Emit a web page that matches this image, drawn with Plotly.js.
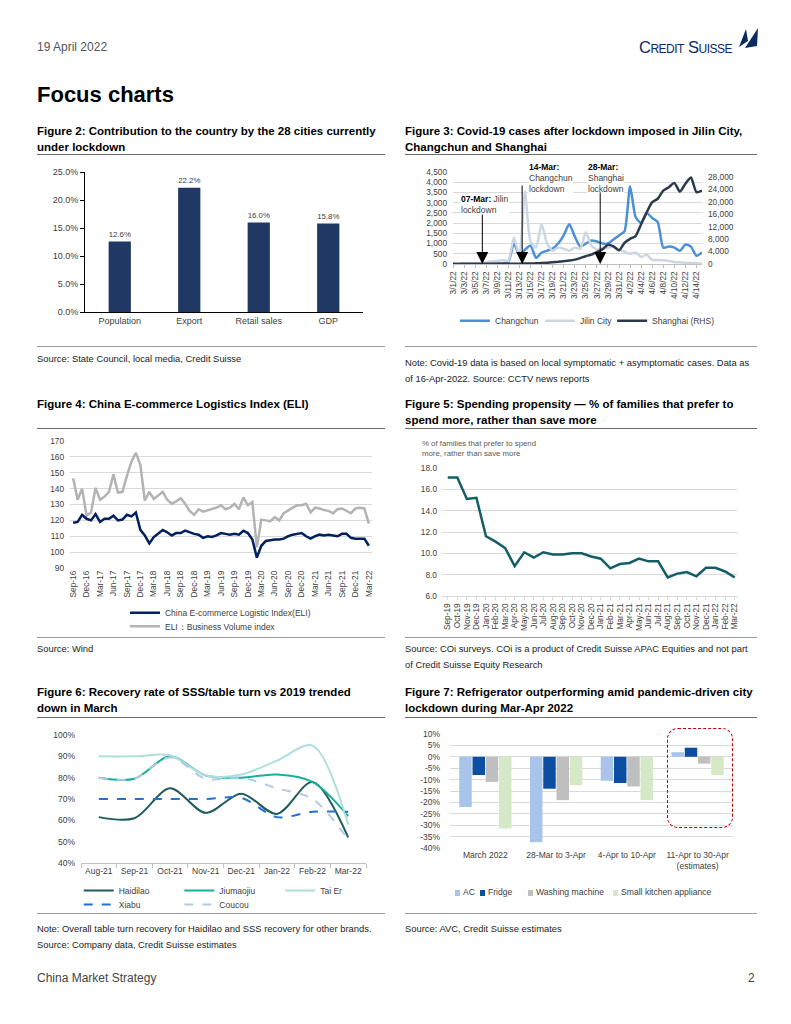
<!DOCTYPE html>
<html><head><meta charset="utf-8">
<script src="https://cdn.plot.ly/plotly-3.0.1.min.js"></script>
<style>
body{margin:0;width:791px;height:1024px;background:#fff;position:relative;font-family:"Liberation Sans",Arial,sans-serif;overflow:hidden}
.t{position:absolute;white-space:nowrap}
.ft{position:absolute;white-space:nowrap;font-family:"Liberation Sans",Arial,sans-serif;font-weight:bold;font-size:11.5px;line-height:15.5px;color:#000}
.rule{position:absolute;height:0;border-top:1.5px solid #6e6e6e}
.rule2{position:absolute;height:0;border-top:1.5px solid #9a9a9a}
.src{position:absolute;white-space:nowrap;font-size:9.4px;line-height:15.5px;color:#222}
.ch{position:absolute}
.lg{position:absolute;white-space:nowrap;font-size:8.6px;color:#404040;line-height:10px}
.lg i{display:inline-block;width:5px;height:6px;margin-right:3px;vertical-align:-0.5px}
</style></head><body>

<div class="t" style="left:37px;top:40px;font-size:12px;color:#555">19 April 2022</div>
<div class="t" style="left:639px;top:38px;font-size:16.5px;color:#0b2a62;font-variant:small-caps;letter-spacing:-0.5px">Credit Suisse</div>
<svg style="position:absolute;left:737px;top:27px" width="24" height="24" viewBox="0 0 24 24">
  <path d="M2 20 L9 2 L11 14 Z" fill="#0b2a62"/>
  <path d="M8 21 L21 1 L20 19 Z" fill="#0b2a62"/>
</svg>
<div class="t" style="left:37px;top:82px;font-size:22px;font-weight:bold;color:#000">Focus charts</div>

<div class="ft" style="left:37px;top:124px">Figure 2: Contribution to the country by the 28 cities currently<br>under lockdown</div>
<div class="rule" style="left:37px;top:154px;width:348px"></div>
<div class="ft" style="left:405px;top:124px">Figure 3: Covid-19 cases after lockdown imposed in Jilin City,<br>Changchun and Shanghai</div>
<div class="rule" style="left:405px;top:154px;width:352px"></div>

<div id="f2" class="ch" style="left:37px;top:160px"></div>
<div id="f3" class="ch" style="left:405px;top:160px"></div>

<div class="rule2" style="left:37px;top:346px;width:348px"></div>
<div class="rule2" style="left:405px;top:346px;width:352px"></div>
<div class="src" style="left:37px;top:351px">Source: State Council, local media, Credit Suisse</div>
<div class="src" style="left:405px;top:355px">Note: Covid-19 data is based on local symptomatic + asymptomatic cases. Data as<br>of 16-Apr-2022. Source: CCTV news reports</div>

<div class="ft" style="left:37px;top:397px">Figure 4: China E-commerce Logistics Index (ELI)</div>
<div class="rule" style="left:37px;top:428px;width:348px"></div>
<div class="ft" style="left:405px;top:397px">Figure 5: Spending propensity — % of families that prefer to<br>spend more, rather than save more</div>
<div class="rule" style="left:405px;top:428px;width:352px"></div>

<div id="f4" class="ch" style="left:37px;top:430px"></div>
<div id="f5" class="ch" style="left:405px;top:430px"></div>

<div class="rule2" style="left:37px;top:637px;width:348px"></div>
<div class="rule2" style="left:405px;top:637px;width:352px"></div>
<div class="src" style="left:37px;top:641px">Source: Wind</div>
<div class="src" style="left:405px;top:641px">Source: COi surveys. COi is a product of Credit Suisse APAC Equities and not part<br>of Credit Suisse Equity Research</div>

<div class="ft" style="left:37px;top:685px">Figure 6: Recovery rate of SSS/table turn vs 2019 trended<br>down in March</div>
<div class="rule" style="left:37px;top:717px;width:348px"></div>
<div class="ft" style="left:405px;top:685px">Figure 7: Refrigerator outperforming amid pandemic-driven city<br>lockdown during Mar-Apr 2022</div>
<div class="rule" style="left:405px;top:717px;width:352px"></div>

<div id="f6" class="ch" style="left:37px;top:725px"></div>
<div id="f7" class="ch" style="left:405px;top:725px"></div>
<div style="position:absolute;left:667px;top:728px;width:64px;height:98px;border:1.5px dashed #c00000;border-radius:11px"></div>
<div id="f7legend"></div>

<div class="rule2" style="left:37px;top:913px;width:348px"></div>
<div class="rule2" style="left:405px;top:913px;width:352px"></div>
<div class="src" style="left:37px;top:921px">Note: Overall table turn recovery for Haidilao and SSS recovery for other brands.<br>Source: Company data, Credit Suisse estimates</div>
<div class="src" style="left:405px;top:921px">Source: AVC, Credit Suisse estimates</div>

<div class="t" style="left:37px;top:971px;font-size:12px;color:#444">China Market Strategy</div>
<div class="t" style="left:748px;top:971px;font-size:12px;color:#444">2</div>

<script>
// ---------- Figure 2 ----------
const fig2Categories = ['Population', 'Export', 'Retail sales', 'GDP'];
const fig2Values = [12.6, 22.2, 16.0, 15.8];

// ---------- Figure 3 ----------
const fig3Dates = ['3/1/22','3/2/22','3/3/22','3/4/22','3/5/22','3/6/22','3/7/22','3/8/22','3/9/22','3/10/22',
  '3/11/22','3/12/22','3/13/22','3/14/22','3/15/22','3/16/22','3/17/22','3/18/22','3/19/22','3/20/22',
  '3/21/22','3/22/22','3/23/22','3/24/22','3/25/22','3/26/22','3/27/22','3/28/22','3/29/22','3/30/22',
  '3/31/22','4/1/22','4/2/22','4/3/22','4/4/22','4/5/22','4/6/22','4/7/22','4/8/22','4/9/22',
  '4/10/22','4/11/22','4/12/22','4/13/22','4/14/22','4/15/22'];
const fig3TickLabels = ['3/1/22','3/3/22','3/5/22','3/7/22','3/9/22','3/11/22','3/13/22','3/15/22','3/17/22','3/19/22',
  '3/21/22','3/23/22','3/25/22','3/27/22','3/29/22','3/31/22','4/2/22','4/4/22','4/6/22','4/8/22','4/10/22','4/12/22','4/14/22'];
const changchun = [0,0,0,5,5,10,10,10,20,30,
  100,1000,450,700,900,300,550,650,750,1000,
  1400,1950,1350,850,1000,1150,1100,1000,1000,1200,
  1400,1600,3800,2300,2000,2500,2250,2050,800,850,
  800,650,950,850,400,570];
const jilinCity = [0,0,0,0,10,30,80,120,150,200,
  150,1300,400,3550,1100,800,1950,1000,650,800,
  750,650,800,750,1550,900,700,800,800,850,
  700,600,500,550,350,450,200,200,180,150,
  100,80,60,50,40,30];
const shanghai = [50,40,60,70,80,60,60,60,80,80,
  80,70,100,150,180,220,300,400,550,700,
  900,1100,1400,1900,2500,3000,3800,4700,6200,5700,
  4400,6800,8100,9000,12800,16600,19900,21000,23600,24700,
  26100,23300,25800,27800,23100,23600];

// ---------- Figure 4 ----------
const fig4Months = ['Sep-16','Oct-16','Nov-16','Dec-16','Jan-17','Feb-17','Mar-17','Apr-17','May-17','Jun-17','Jul-17','Aug-17',
  'Sep-17','Oct-17','Nov-17','Dec-17','Jan-18','Feb-18','Mar-18','Apr-18','May-18','Jun-18','Jul-18','Aug-18',
  'Sep-18','Oct-18','Nov-18','Dec-18','Jan-19','Feb-19','Mar-19','Apr-19','May-19','Jun-19','Jul-19','Aug-19',
  'Sep-19','Oct-19','Nov-19','Dec-19','Jan-20','Feb-20','Mar-20','Apr-20','May-20','Jun-20','Jul-20','Aug-20',
  'Sep-20','Oct-20','Nov-20','Dec-20','Jan-21','Feb-21','Mar-21','Apr-21','May-21','Jun-21','Jul-21','Aug-21',
  'Sep-21','Oct-21','Nov-21','Dec-21','Jan-22','Feb-22','Mar-22'];
const fig4TickLabels = ['Sep-16','Dec-16','Mar-17','Jun-17','Sep-17','Dec-17','Mar-18','Jun-18','Sep-18','Dec-18','Mar-19','Jun-19',
  'Sep-19','Dec-19','Mar-20','Jun-20','Sep-20','Dec-20','Mar-21','Jun-21','Sep-21','Dec-21','Mar-22'];
const eliIndex = [118.5,119,123.5,121,120,124,119,121,121,123,120,120.5,
  123.5,122.5,125,114,110.5,105.5,109.5,111.5,114,112.5,110.5,112,
  112,113.5,112.5,111.5,111,109,110,109.5,110.5,112,111.5,111,
  111.5,111,113.5,112,108,96.5,104,107,107.5,108,108,108.5,
  110,111,111.5,112,110,108.5,110,111,110.5,111,110.5,110,
  111.5,111.5,109,108.5,108.5,108.5,104];
const eliBusinessVolume = [146.5,133,140,123,125,140.5,133,135,138,149,137.5,138,
  148,157,162.5,155,132.5,138,133.5,136,138,133,130.5,132,
  134,130.5,126,123.5,127,125.5,126.5,127.5,128,129.5,127,128,
  130.5,127,134.5,129.5,131.5,103,120.5,120,119.5,122,120,124.5,
  126.5,128,129.5,129.5,130.5,125,128,127.5,126.5,126,124.5,127,
  127.5,126,124.5,127.5,128,127.5,118];

// ---------- Figure 5 ----------
const fig5Months = ['Sep-19','Oct-19','Nov-19','Dec-19','Jan-20','Feb-20','Mar-20','Apr-20','May-20','Jun-20','Jul-20',
  'Aug-20','Sep-20','Oct-20','Nov-20','Dec-20','Jan-21','Feb-21','Mar-21','Apr-21','May-21','Jun-21','Jul-21',
  'Aug-21','Sep-21','Oct-21','Nov-21','Dec-21','Jan-22','Feb-22','Mar-22'];
const spendPropensity = [17.1,17.1,15.1,15.2,11.6,11.1,10.5,8.8,10.1,9.6,10.1,
  9.9,9.9,10.0,10.0,9.7,9.5,8.6,9.0,9.1,9.5,9.25,9.25,
  7.75,8.1,8.25,7.85,8.65,8.65,8.3,7.75];

// ---------- Figure 6 ----------
const fig6Months = ['Aug-21','Sep-21','Oct-21','Nov-21','Dec-21','Jan-22','Feb-22','Mar-22'];
const haidilao  = [61.5, 61, 75, 63.5, 72.5, 63, 78, 52];
const jiumaojiu = [80, 79.5, 90, 81, 80, 81.5, 78, 62];
const taiEr     = [90, 90, 90.5, 81, 81.5, 88, 95, 58];
const xiabu     = [70, 70, 70, 70, 70.5, 61.5, 64, 64];
const coucou    = [80, 79.5, 89.5, 79.5, 80, 75, 70, 51];

// ---------- Figure 7 ----------
const fig7Categories = ['March 2022', '28-Mar to 3-Apr', '4-Apr to 10-Apr', '11-Apr to 30-Apr<br>(estimates)'];
const fig7Series = ['AC', 'Fridge', 'Washing machine', 'Small kitchen appliance'];
const acGrowth      = [-22, -37.5, -10.5, 2];
const fridgeGrowth  = [-8, -14, -11.5, 4];
const washerGrowth  = [-11, -19, -13, -3];
const kitchenGrowth = [-31.5, -12.5, -19, -8];
const fig7TickVals  = [10, 5, 0, -5, -10, -15, -20, -25, -30, -35, -40];
const fig7TickText  = ['10%','5%','0%','-5%','-10%','-15%','-20%','-25%','-30%','-35%','-40%'];

const FONT = 'Liberation Sans, Arial, sans-serif';
const TXT = '#404040';
const GRID = '#D9D9D9';
const cfg = {staticPlot: true, displayModeBar: false};
function base(w, h, m) {
  m.autoexpand = false;
  return {width: w, height: h, margin: m, paper_bgcolor: '#fff', plot_bgcolor: '#fff',
    font: {family: FONT, size: 9, color: TXT}, showlegend: false};
}
function lgd(x, y) {
  return {orientation:'h', x:x, xanchor:'left', y:y, yanchor:'middle', bgcolor:'rgba(0,0,0,0)',
    font:{size:8.5, color:TXT}, itemwidth:30, borderwidth:0};
}

// Figure 2
(function(){
  const L = base(348, 180, {l:48, r:22, t:12, b:28});
  L.xaxis = {type:'category', showline:true, linecolor:'#000', linewidth:1, ticks:'', showgrid:false, tickfont:{size:9, color:TXT}};
  L.yaxis = {range:[0,25], dtick:5, tickformat:'.1f', ticksuffix:'%', showgrid:false, showline:true, linecolor:'#000',
    ticks:'outside', ticklen:4, tickcolor:'#000', zeroline:false, tickfont:{size:9, color:TXT}};
  L.bargap = 0.68;
  Plotly.newPlot('f2', [{type:'bar', x:fig2Categories, y:fig2Values, marker:{color:'#1F3864'},
    text:fig2Values.map(v => v.toFixed(1) + '%'), textposition:'outside', cliponaxis:false,
    textfont:{size:9.3, color:TXT}}], L, cfg);
})();

// Figure 3
(function(){
  const L = base(352, 178, {l:48, r:55, t:12, b:74});
  L.showlegend = true;
  L.xaxis = {type:'category', range:[0,45], tickvals:fig3TickLabels, ticktext:fig3TickLabels, tickangle:-90,
    showgrid:false, showline:true, linecolor:'#BFBFBF', ticks:'outside', ticklen:3, tickcolor:'#BFBFBF',
    tickfont:{size:8.3, color:TXT}};
  L.yaxis = {range:[0,4500], dtick:500, tickformat:',d', showgrid:true, gridcolor:GRID, zeroline:false,
    ticklabelstandoff:5, tickfont:{size:8.3, color:TXT}};
  L.yaxis2 = {overlaying:'y', side:'right', range:[0,29600], dtick:4000, tickformat:',d', showgrid:false,
    zeroline:false, ticklabelstandoff:5, tickfont:{size:8.3, color:TXT}};
  L.legend = lgd(0.008, -0.616);
  L.legend2 = lgd(0.349, -0.616);
  L.legend3 = lgd(0.639, -0.616);
  const arrow = (x, ay) => ({x:x, y:0, xref:'x', yref:'y', ax:0, ay:ay, showarrow:true, arrowhead:2,
    arrowsize:2.4, arrowwidth:1, arrowcolor:'#000', text:'', standoff:0});
  const lab = (x, y, t) => ({xref:'paper', yref:'paper', x:x, y:y, xanchor:'left', yanchor:'top', align:'left',
    text:t, showarrow:false, bgcolor:'#fff', borderpad:0, font:{size:8.5, color:'#404040'}});
  L.annotations = [
    lab(0.03, 0.77, '<b style="color:#000">07-Mar:</b> Jilin<br>lockdown'),
    lab(0.30, 1.12, '<b style="color:#000">14-Mar:</b><br>Changchun<br>lockdown'),
    lab(0.54, 1.12, '<b style="color:#000">28-Mar:</b><br>Shanghai<br>lockdown'),
    arrow(5.3, -51), arrow(12.5, -80), arrow(26.6, -73)
  ];
  const tr = [
    {x:fig3Dates, y:changchun, name:'Changchun', legend:'legend', line:{color:'#4A90D9', width:2.5, shape:'spline', smoothing:0.6}},
    {x:fig3Dates, y:jilinCity, name:'Jilin City', legend:'legend2', line:{color:'#CDD6E3', width:2.5, shape:'spline', smoothing:0.6}},
    {x:fig3Dates, y:shanghai, name:'Shanghai (RHS)', legend:'legend3', yaxis:'y2', line:{color:'#2B3A4F', width:2.5, shape:'spline', smoothing:0.6}}
  ].map(t => Object.assign({type:'scatter', mode:'lines'}, t));
  Plotly.newPlot('f3', tr, L, cfg);
})();

// Figure 4
(function(){
  const L = base(348, 210, {l:33, r:13, t:11, b:72});
  L.showlegend = true;
  L.xaxis = {type:'category', range:[-0.7,66.7], tickvals:fig4TickLabels, ticktext:fig4TickLabels, tickangle:-90,
    showgrid:false, showline:false, ticks:'', tickfont:{size:8.3, color:TXT}};
  L.yaxis = {range:[90,170], dtick:10, showgrid:true, gridcolor:GRID, zeroline:false, ticklabelstandoff:5,
    tickfont:{size:8.3, color:TXT}};
  L.legend = lgd(0.182, -0.353);
  L.legend2 = lgd(0.182, -0.459);
  const tr = [
    {x:fig4Months, y:eliBusinessVolume, name:'ELI\uFF1ABusiness Volume index', legend:'legend2', line:{color:'#B3B3B3', width:2.5}},
    {x:fig4Months, y:eliIndex, name:'China E-commerce Logistic Index(ELI)', legend:'legend', line:{color:'#002060', width:2.5}}
  ].map(t => Object.assign({type:'scatter', mode:'lines'}, t));
  Plotly.newPlot('f4', tr, L, cfg);
})();

// Figure 5
(function(){
  const L = base(352, 210, {l:37, r:19, t:38, b:44});
  L.xaxis = {type:'category', range:[-0.6,30.35], tickvals:fig5Months, ticktext:fig5Months, tickangle:-90,
    showgrid:false, showline:true, linecolor:GRID, ticks:'outside', ticklen:3, tickcolor:GRID, tickfont:{size:8.3, color:TXT}};
  L.yaxis = {range:[6,18], dtick:2, tickformat:'.1f', showgrid:true, gridcolor:GRID, zeroline:false,
    ticklabelstandoff:4, tickfont:{size:8.3, color:TXT}};
  L.annotations = [{xref:'paper', yref:'paper', x:-0.075, y:1.24, xanchor:'left', yanchor:'top', align:'left',
    showarrow:false, text:'% of families that prefer to spend<br>more, rather than save more', font:{size:7.8, color:'#595959'}}];
  Plotly.newPlot('f5', [{type:'scatter', mode:'lines', x:fig5Months, y:spendPropensity,
    line:{color:'#135E66', width:2.5}}], L, cfg);
})();

// Figure 6
(function(){
  const L = base(348, 190, {l:44, r:19, t:10, b:52});
  L.showlegend = true;
  L.xaxis = {type:'category', range:[-0.5,7.5], tickangle:0, showgrid:false, showline:true, linecolor:'#BFBFBF',
    ticks:'outside', tickson:'boundaries', ticklen:4, tickcolor:'#BFBFBF', tickfont:{size:8.5, color:TXT}};
  L.yaxis = {range:[40,100], dtick:10, ticksuffix:'%', showgrid:false, zeroline:false, ticklabelstandoff:5,
    tickfont:{size:8.5, color:TXT}};
  const r1 = -0.214, r2 = -0.325;
  L.legend = lgd(-0.008, r1); L.legend2 = lgd(0.345, r1); L.legend3 = lgd(0.699, r1);
  L.legend4 = lgd(-0.008, r2); L.legend5 = lgd(0.345, r2);
  const sp = {shape:'spline', smoothing:0.9, width:2};
  const tr = [
    {y:haidilao, name:'Haidilao', legend:'legend', line:Object.assign({color:'#1E5C5A'}, sp)},
    {y:jiumaojiu, name:'Jiumaojiu', legend:'legend2', line:Object.assign({color:'#17B0A0'}, sp)},
    {y:taiEr, name:'Tai Er', legend:'legend3', line:Object.assign({color:'#AEDFDB'}, sp)},
    {y:xiabu, name:'Xiabu', legend:'legend4', line:Object.assign({color:'#1F72D6', dash:'dash'}, sp)},
    {y:coucou, name:'Coucou', legend:'legend5', line:Object.assign({color:'#B4C8E8', dash:'dash'}, sp)}
  ].map(t => Object.assign({type:'scatter', mode:'lines', x:fig6Months}, t));
  Plotly.newPlot('f6', tr, L, cfg);
})();

// Figure 7
(function(){
  const L = base(352, 190, {l:45, r:24, t:9, b:67});
  L.barmode = 'group'; L.bargap = 0.25; L.bargroupgap = 0.06;
  L.xaxis = {type:'category', showgrid:false, showline:false, ticks:'', tickfont:{size:8.5, color:TXT}};
  L.yaxis = {range:[-40,10], tickvals:fig7TickVals, ticktext:fig7TickText, showgrid:true, gridcolor:GRID,
    zeroline:true, zerolinecolor:GRID, zerolinewidth:1, ticklabelstandoff:9, tickfont:{size:8.5, color:TXT}};
  const colors = ['#A9C4EB', '#0B4EA2', '#BFBFBF', '#D6E9C6'];
  const vals = [acGrowth, fridgeGrowth, washerGrowth, kitchenGrowth];
  const tr = fig7Series.map((n, i) => ({type:'bar', x:fig7Categories, y:vals[i], name:n, marker:{color:colors[i]}}));
  Plotly.newPlot('f7', tr, L, cfg);
  // legend row (same names and colours as the traces)
  const lefts = [455, 480, 528, 613];
  document.getElementById('f7legend').innerHTML = fig7Series.map((n, i) =>
    '<div class="lg" style="left:' + lefts[i] + 'px;top:887px"><i style="background:' + colors[i] + '"></i>' + n + '</div>').join('');
})();
</script>
</body></html>
